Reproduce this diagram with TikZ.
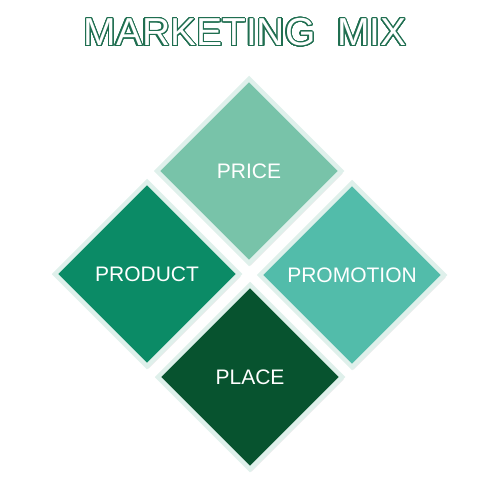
\documentclass[tikz,border=0pt]{standalone}
\usepackage{fontspec}
\setmainfont{Liberation Sans}
\usepackage[copies]{contour}
\usetikzlibrary{shapes.geometric,shadows}
\definecolor{priceGreen}{HTML}{78C3A9}
\definecolor{productGreen}{HTML}{0B8B66}
\definecolor{promoTeal}{HTML}{52BCAA}
\definecolor{placeGreen}{HTML}{07532F}
\definecolor{borderMint}{HTML}{DFF0EB}
\definecolor{titleGreen}{HTML}{1F6E50}
\contourlength{1.1pt}
\contournumber{32}
\begin{document}
\begin{tikzpicture}[x=1pt,y=-1pt,
    block/.style={diamond, aspect=1, minimum width=186pt, minimum height=186pt,
        draw=borderMint, line width=4.5pt, text=white,
        font=\fontsize{21}{21}\selectfont,
        drop shadow={opacity=0.18, shadow xshift=1.5pt, shadow yshift=-2.5pt}}
  ]
    \useasboundingbox (0,0) rectangle (500,500);
    % title
    \node (title) at (245,33) {\fontsize{39}{39}\selectfont
        \contour{titleGreen}{\textcolor{white}{MARKETING\ \ MIX}}};
    % the four blocks
    \node[block, fill=priceGreen]   (price)     at (249,171) {PRICE};
    \node[block, fill=productGreen] (product)   at (147,274) {PRODUCT};
    \node[block, fill=promoTeal]    (promotion) at (352,275) {PROMOTION};
    \node[block, fill=placeGreen]   (place)     at (250,377) {PLACE};
\end{tikzpicture}
\end{document}
